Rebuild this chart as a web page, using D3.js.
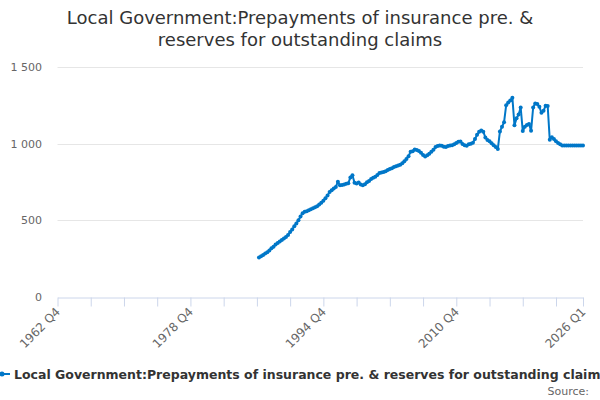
<!DOCTYPE html>
<html>
<head>
<meta charset="utf-8">
<script src="https://cdn.jsdelivr.net/npm/d3@7"></script>
<style>
  body { margin: 0; background: #fff; }
  svg { font-family: "DejaVu Sans", sans-serif; display: block; }
</style>
</head>
<body>
<div id="chart"></div>
<script>
'use strict';

// quarterly series, 1987 Q1 .. 2026 Q1
var firstQuarter = { year: 1987, q: 1 };
var values = [
    258, 266, 274, 284, 292, 304, 318, 328, 342, 352,
    362, 371, 382, 392, 405, 424, 440, 462, 480, 500,
    525, 546, 556, 560, 566, 572, 578, 585, 592, 603,
    614, 628, 644, 662, 684, 697, 708, 718, 752, 728,
    730, 734, 738, 742, 780, 794, 745, 740, 746, 734,
    728, 736, 748, 756, 770, 778, 785, 795, 808, 812,
    816, 820, 828, 834, 840, 848, 852, 858, 862, 872,
    886, 900, 918, 948, 950, 962, 958, 952, 940, 926,
    916, 924, 935, 948, 960, 978, 985, 988, 986, 980,
    978, 984, 988, 990, 996, 1004, 1012, 1014, 998, 990,
    986, 996, 1000, 1006, 1030, 1058, 1078, 1086, 1078, 1040,
    1024, 1016, 1002, 990, 978, 966, 1080, 1110, 1140, 1250,
    1268, 1282, 1300, 1120, 1165, 1190, 1236, 1082, 1110, 1122,
    1128, 1084, 1236, 1262, 1258, 1240, 1202, 1214, 1248, 1246,
    1025, 1042, 1030, 1016, 1004, 996, 988, 988, 988, 988,
    988, 988, 988, 988, 988, 988, 988
];
var xTickLabels = ['1962 Q4', '1978 Q4', '1994 Q4', '2010 Q4', '2026 Q1'];
var yTicks = [0, 500, 1000, 1500];
var seriesName = 'Local Government:Prepayments of insurance pre. & reserves for outstanding claims';
var titleLines = ['Local Government:Prepayments of insurance pre. &', 'reserves for outstanding claims'];

// category axis runs over every quarter from 1962 Q4 to 2026 Q1
var categories = [];
(function () {
    var y = 1962, q = 4;
    while (!(y === 2026 && q === 2)) {
        categories.push(y + ' Q' + q);
        q++;
        if (q > 4) { q = 1; y++; }
    }
})();

var startIndex = categories.indexOf(firstQuarter.year + ' Q' + firstQuarter.q);
var points = values.map(function (v, i) {
    return { cat: categories[startIndex + i], value: v };
});

var width = 600;
var height = 400;
var margin = { top: 67, right: 17, bottom: 103, left: 57.5 };

var svg = d3.select('#chart')
    .append('svg')
    .attr('width', width)
    .attr('height', height);

var x = d3.scalePoint()
    .domain(categories)
    .range([margin.left, width - margin.right]);

var y = d3.scaleLinear()
    .domain([0, 1500])
    .range([height - margin.bottom, margin.top]);

// title
svg.append('text')
    .attr('x', 300)
    .attr('y', 24)
    .attr('text-anchor', 'middle')
    .style('font-size', '18px')
    .style('fill', '#333333')
    .selectAll('tspan')
    .data(titleLines)
    .enter().append('tspan')
    .attr('x', 300)
    .attr('dy', function (d, i) { return i === 0 ? 0 : 22; })
    .text(function (d) { return d; });

// grid lines
svg.append('g')
    .selectAll('line')
    .data(yTicks.filter(function (d) { return d > 0; }))
    .enter().append('line')
    .attr('x1', margin.left)
    .attr('x2', width - margin.right)
    .attr('y1', function (d) { return Math.round(y(d)) + 0.5; })
    .attr('y2', function (d) { return Math.round(y(d)) + 0.5; })
    .attr('stroke', '#e6e6e6')
    .attr('stroke-width', 1);

// y axis labels
var fmt = function (d) { return d3.format(',')(d).replace(/,/g, ' '); };
svg.append('g')
    .selectAll('text')
    .data(yTicks)
    .enter().append('text')
    .attr('x', 42)
    .attr('y', function (d) { return y(d) + 4; })
    .attr('text-anchor', 'end')
    .style('font-size', '11px')
    .style('fill', '#666666')
    .text(fmt);

// x axis
var tickCats = categories.filter(function (c, i) {
    return i % 16 === 0 || i === categories.length - 1;
});
var xAxis = d3.axisBottom(x)
    .tickValues(tickCats)
    .tickSize(9)
    .tickSizeOuter(0)
    .tickFormat(function (d) { return xTickLabels.indexOf(d) >= 0 ? d : ''; });

var gx = svg.append('g')
    .attr('transform', 'translate(0,' + (Math.round(y(0)) + 0.5) + ')')
    .call(xAxis);
gx.select('.domain').attr('stroke', '#ccd6eb');
gx.selectAll('.tick line').attr('stroke', '#ccd6eb');
gx.selectAll('.tick text')
    .attr('transform', 'translate(3,15) rotate(-45)')
    .attr('text-anchor', 'end')
    .attr('dy', 0)
    .attr('y', 0)
    .attr('x', 0)
    .style('font-size', '12px')
    .style('font-family', '"DejaVu Sans", sans-serif')
    .style('fill', '#666666');

// series
var line = d3.line()
    .x(function (d) { return x(d.cat); })
    .y(function (d) { return y(d.value); });

svg.append('path')
    .datum(points)
    .attr('fill', 'none')
    .attr('stroke', '#0077c8')
    .attr('stroke-width', 2)
    .attr('stroke-linejoin', 'round')
    .attr('d', line);

svg.append('g')
    .selectAll('circle')
    .data(points)
    .enter().append('circle')
    .attr('cx', function (d) { return x(d.cat); })
    .attr('cy', function (d) { return y(d.value); })
    .attr('r', 2)
    .attr('fill', '#0077c8');

// legend
var legend = svg.append('g').attr('transform', 'translate(0,374)');
legend.append('line')
    .attr('x1', -6).attr('x2', 10)
    .attr('y1', 0).attr('y2', 0)
    .attr('stroke', '#0077c8')
    .attr('stroke-width', 2);
legend.append('circle')
    .attr('cx', 2).attr('cy', 0).attr('r', 2.5)
    .attr('fill', '#0077c8');
legend.append('text')
    .attr('x', 14)
    .attr('y', 4.5)
    .style('font-size', '12.5px')
    .style('font-weight', 'bold')
    .style('fill', '#333333')
    .text(seriesName);

svg.append('text')
    .attr('x', 589)
    .attr('y', 395)
    .attr('text-anchor', 'end')
    .style('font-size', '11px')
    .style('fill', '#666666')
    .text('Source:');
</script>
</body>
</html>
